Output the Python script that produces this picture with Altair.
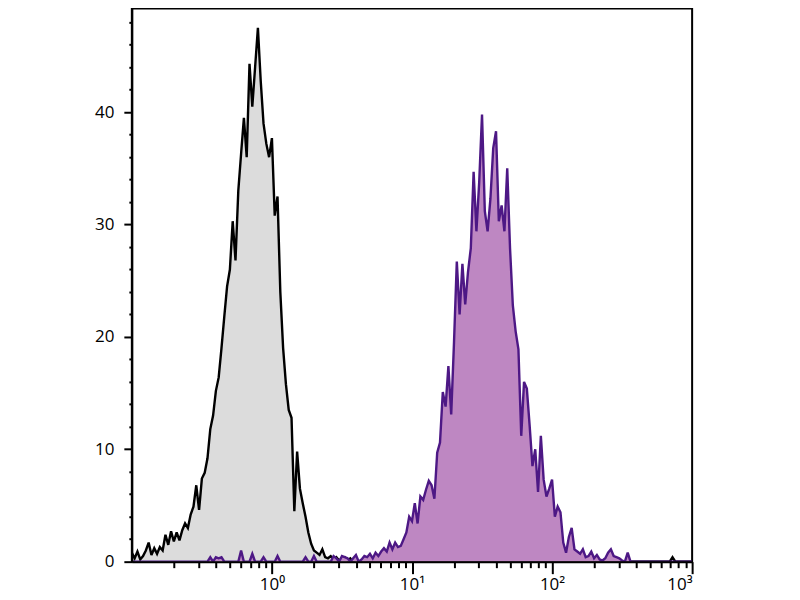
import altair as alt
import pandas as pd

# Histogram counts, one value per log-spaced bin
# (bins from 10^-1 to 10^3, step 0.02 decades)
gray_counts = [
    0.8, 0.3, 0.9, 0.2, 0.5, 1.0, 1.7, 0.6, 1.2, 0.7,
    1.3, 1.0, 2.4, 1.5, 2.7, 1.8, 2.6, 1.9, 2.8, 3.4,
    3.0, 4.2, 4.9, 6.8, 4.6, 7.4, 7.9, 9.2, 11.8, 13.0,
    15.2, 16.4, 19.0, 21.8, 24.5, 26.0, 30.3, 26.8, 33.0, 36.3,
    39.5, 36.0, 44.3, 40.5, 44.0, 47.5, 42.8, 39.0, 37.2, 36.0,
    37.7, 30.8, 32.5, 24.0, 19.0, 15.8, 13.5, 12.8, 4.5, 9.8,
    6.5, 5.2, 4.0, 2.6, 1.6, 1.0, 0.8, 0.6, 1.1, 0.4,
    0.3, 0.5, 0.2, 0.4, 0.1, 0.3, 0.4, 0.1, 0.3, 0.0,
    0.2, 0.0, 0.0, 0.1, 0.0, 0.0, 0.0, 0.0, 0.0, 0.0,
    0.0, 0.0, 0.0, 0.0, 0.0, 0.0, 0.0, 0.0, 0.0, 0.0,
    0.0, 0.0, 0.0, 0.0, 0.0, 0.0, 0.0, 0.0, 0.0, 0.0,
    0.0, 0.0, 0.0, 0.0, 0.0, 0.0, 0.0, 0.0, 0.0, 0.0,
    0.0, 0.0, 0.0, 0.0, 0.0, 0.0, 0.0, 0.0, 0.0, 0.0,
    0.0, 0.0, 0.0, 0.0, 0.0, 0.0, 0.0, 0.0, 0.0, 0.0,
    0.0, 0.0, 0.0, 0.0, 0.0, 0.0, 0.0, 0.0, 0.0, 0.0,
    0.0, 0.0, 0.0, 0.0, 0.0, 0.0, 0.0, 0.0, 0.0, 0.0,
    0.0, 0.0, 0.0, 0.0, 0.0, 0.0, 0.0, 0.0, 0.0, 0.0,
    0.0, 0.0, 0.0, 0.0, 0.0, 0.0, 0.0, 0.0, 0.0, 0.0,
    0.0, 0.0, 0.0, 0.0, 0.0, 0.0, 0.0, 0.0, 0.0, 0.0,
    0.0, 0.0, 0.0, 0.4, 0.0, 0.0, 0.0, 0.0, 0.0, 0.0,
    0.0,
]

purple_counts = [
    0.0, 0.0, 0.0, 0.0, 0.0, 0.0, 0.0, 0.0, 0.0, 0.0,
    0.0, 0.0, 0.0, 0.0, 0.0, 0.0, 0.0, 0.0, 0.0, 0.0,
    0.0, 0.0, 0.0, 0.0, 0.0, 0.0, 0.0, 0.0, 0.4, 0.0,
    0.4, 0.3, 0.4, 0.0, 0.0, 0.0, 0.0, 0.0, 0.0, 1.0,
    0.0, 0.0, 0.0, 0.7, 0.0, 0.0, 0.0, 0.4, 0.0, 0.0,
    0.0, 0.0, 0.5, 0.0, 0.0, 0.0, 0.0, 0.0, 0.0, 0.0,
    0.0, 0.0, 0.4, 0.0, 0.0, 0.5, 0.0, 0.0, 0.0, 0.0,
    0.0, 0.0, 0.5, 0.3, 0.0, 0.5, 0.4, 0.3, 0.0, 0.3,
    0.6, 0.0, 0.2, 0.5, 0.4, 0.7, 0.3, 0.8, 0.5, 0.9,
    1.2, 0.9, 1.7, 1.1, 1.7, 1.3, 1.4, 2.0, 2.6, 4.0,
    3.6, 5.2, 3.4, 5.8, 5.5, 6.4, 7.2, 6.8, 5.6, 9.7,
    10.6, 15.1, 13.8, 17.4, 13.1, 19.5, 26.7, 22.0, 26.5, 22.9,
    25.8, 27.9, 34.7, 29.4, 33.8, 39.8, 31.2, 29.4, 32.3, 36.8,
    38.3, 30.3, 31.7, 29.4, 35.0, 27.9, 22.8, 20.5, 18.9, 11.2,
    16.0, 15.4, 12.1, 8.5, 10.0, 6.2, 11.2, 7.3, 5.8, 6.5,
    7.3, 4.0, 4.9, 4.4, 1.7, 0.8, 2.2, 3.0, 1.1, 0.9,
    0.7, 1.1, 0.4, 0.5, 0.9, 0.3, 0.6, 0.2, 0.1, 0.3,
    0.8, 1.1, 0.5, 0.4, 0.3, 0.1, 0.0, 0.8, 0.0, 0.0,
    0.0, 0.0, 0.0, 0.0, 0.0, 0.0, 0.0, 0.0, 0.0, 0.0,
    0.0, 0.0, 0.0, 0.0, 0.0, 0.0, 0.0, 0.0, 0.0, 0.0,
    0.0,
]

# bin grid (log10 of fluorescence intensity)
log_bins = [round(-1 + 0.02 * i, 2) for i in range(len(gray_counts))]
intensity = [10 ** v for v in log_bins]

x_ticks = [0.2, 0.3, 0.4, 0.5, 0.6, 0.7, 0.8, 0.9,
           1, 2, 3, 4, 5, 6, 7, 8, 9,
           10, 20, 30, 40, 50, 60, 70, 80, 90,
           100, 200, 300, 400, 500, 600, 700, 800, 900, 1000]
y_ticks = list(range(0, 50, 2))

gray_df = pd.DataFrame({"x": intensity, "count": gray_counts})
purple_df = pd.DataFrame({"x": intensity, "count": purple_counts})

x_major = "abs(log(datum.value)/LN10 - round(log(datum.value)/LN10)) < 0.001"
y_major = "datum.value % 10 === 0"

x_axis = alt.Axis(
    values=x_ticks, title=None, grid=False, zindex=1,
    labelExpr="(" + x_major + ") ? '10' + ['⁻¹','⁰','¹','²','³'][round(log(datum.value)/LN10) + 1] : ''",
    labelOverlap=False, labelFont="Open Sans", labelFontSize=17, labelColor="black",
    labelPadding=3, labelBound=False,
    tickSize={"condition": {"test": x_major, "value": 12}, "value": 6},
    tickWidth=2, tickColor="black", domainColor="black", domainWidth=2,
)
y_axis = alt.Axis(
    values=y_ticks, title=None, grid=False, zindex=1,
    labelExpr="datum.value % 10 === 0 ? datum.label : ''",
    labelOverlap=False, labelFont="Open Sans", labelFontSize=17, labelColor="black",
    labelPadding=10,
    tickSize={"condition": {"test": y_major, "value": 8}, "value": 3},
    tickWidth=2, tickColor="black", domainColor="black", domainWidth=2,
)

xs = alt.Scale(type="log", domain=[0.1, 1000], nice=False)
ys = alt.Scale(domain=[0, 49.24], nice=False, zero=True)

def layer(df, fill, stroke):
    base = alt.Chart(df).encode(
        x=alt.X("x:Q", scale=xs, axis=x_axis),
        y=alt.Y("count:Q", scale=ys, axis=y_axis),
    )
    area = base.mark_area(color=fill, opacity=1, clip=True, interpolate="linear")
    line = base.mark_line(color=stroke, strokeWidth=2.4, clip=True, interpolate="linear",
                          strokeJoin="miter", strokeMiterLimit=3)
    return area, line

g_area, g_line = layer(gray_df, "#dcdcdc", "#000000")
p_area, p_line = layer(purple_df, "#be87c2", "#4d1885")

chart = alt.layer(g_area, g_line, p_area, p_line).properties(
    width=561,
    height=554,
    autosize=alt.AutoSizeParams(type="none"),
    padding={"left": 124, "top": 0, "right": 100, "bottom": 40},
).configure_view(stroke="black", strokeWidth=2)

chart.save("out.html", embed_options={"renderer": "svg", "actions": False})
